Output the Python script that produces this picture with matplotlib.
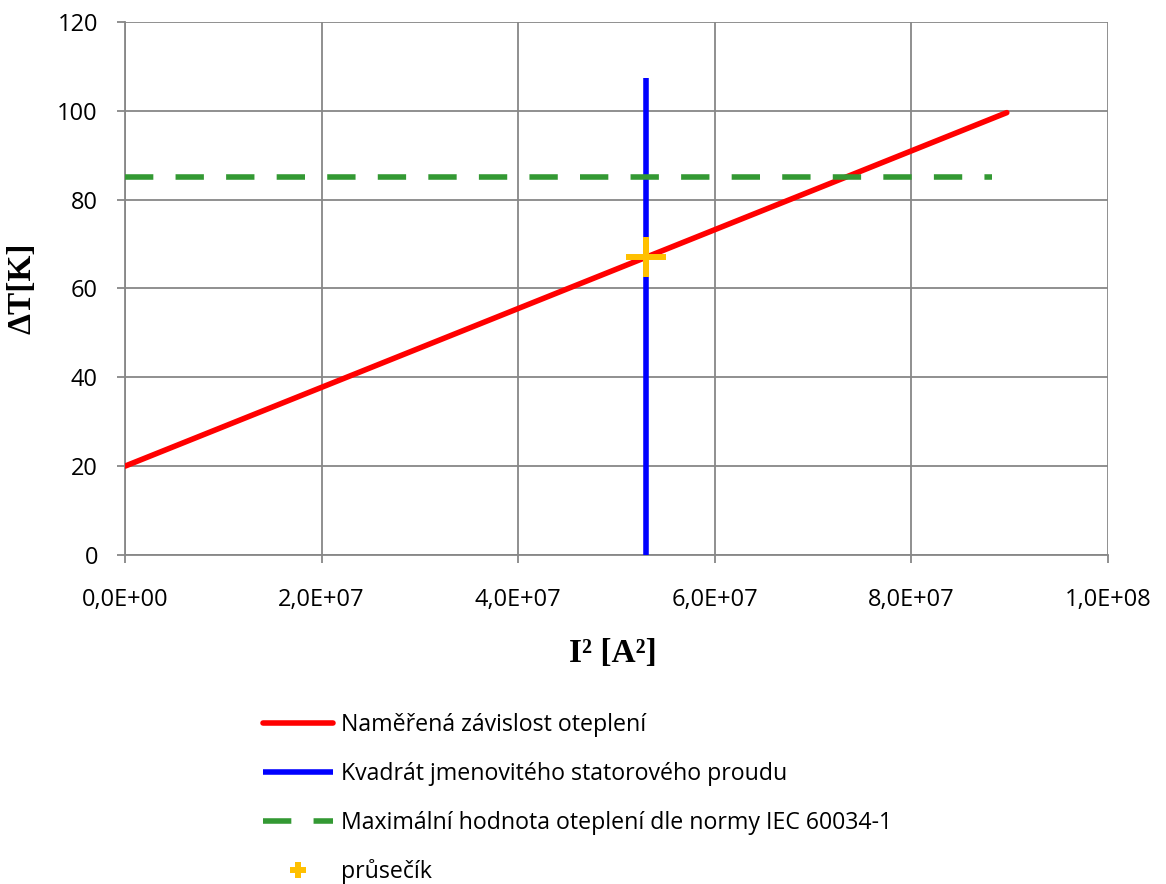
"""Temperature rise vs. squared stator current."""

import matplotlib

matplotlib.use("Agg")
import matplotlib.pyplot as plt
from matplotlib.ticker import FuncFormatter, MultipleLocator

# Data
measured_i2 = [0.0, 8.97e7]
measured_dt = [20.0, 99.6]
rated_i2 = [5.3e7, 5.3e7]
rated_dt = [0.0, 107.3]
limit_i2 = [0.0, 8.82e7]
limit_dt = [85.0, 85.0]
cross_i2 = [5.3e7]
cross_dt = [67.0]

labels = [
    "Naměřená závislost oteplení",
    "Kvadrát jmenovitého statorového proudu",
    "Maximální hodnota oteplení dle normy IEC 60034-1",
    "průsečík",
]

plt.rcParams["font.family"] = ["Open Sans", "DejaVu Sans"]

fig = plt.figure(figsize=(11.66, 8.84), dpi=100)
ax = fig.add_axes([0.1072, 0.3722, 0.8431, 0.6029])

lw = 4.0
ax.plot(measured_i2, measured_dt, color="#FF0000", lw=lw, solid_capstyle="round",
        label=labels[0], zorder=3)
ax.plot(rated_i2, rated_dt, color="#0000FF", lw=lw, solid_capstyle="butt",
        label=labels[1], zorder=3)
ax.plot(limit_i2, limit_dt, color="#339933", lw=lw, dashes=(5.1, 4.0),
        dash_capstyle="butt", label=labels[2], zorder=3)
ax.plot(cross_i2, cross_dt, linestyle="none", marker="+", markersize=29,
        markeredgewidth=4.3, color="#FFC000", label=labels[3], zorder=4)

ax.set_xlim(0, 1.0e8)
ax.set_ylim(0, 120)
ax.xaxis.set_major_locator(MultipleLocator(2.0e7))
ax.yaxis.set_major_locator(MultipleLocator(20))
ax.xaxis.set_major_formatter(
    FuncFormatter(lambda v, _: f"{v:.1E}".replace(".", ","))
)

ax.grid(True, color="#878787", lw=1.3)
ax.set_axisbelow(True)
for side in ("top", "right"):
    ax.spines[side].set_visible(False)
for side in ("left", "bottom"):
    ax.spines[side].set_color("#878787")
    ax.spines[side].set_linewidth(1.3)
ax.tick_params(axis="both", colors="#878787", length=6, width=1.3,
               labelcolor="black", labelsize=17)
ax.tick_params(axis="x", pad=18)
ax.tick_params(axis="y", pad=13.5)

serif = {"family": "Liberation Serif", "weight": "bold", "size": 24}
ax.set_ylabel("ΔT[K]", fontdict=serif)
ax.yaxis.set_label_coords(-0.0895, 0.5)
ax.set_xlabel("I² [A²]", fontdict=serif)
ax.xaxis.set_label_coords(0.496, -0.156)

handles, _ = ax.get_legend_handles_labels()
fig.legend(
    handles,
    labels,
    loc="upper left",
    bbox_to_anchor=(263 / 1166, 1 - 713 / 884),
    frameon=False,
    fontsize=16.7,
    handlelength=3.0,
    handletextpad=0.35,
    labelspacing=1.07,
    borderpad=0,
    borderaxespad=0,
    markerscale=0.42,
)

fig.savefig("out.png", dpi=100)
